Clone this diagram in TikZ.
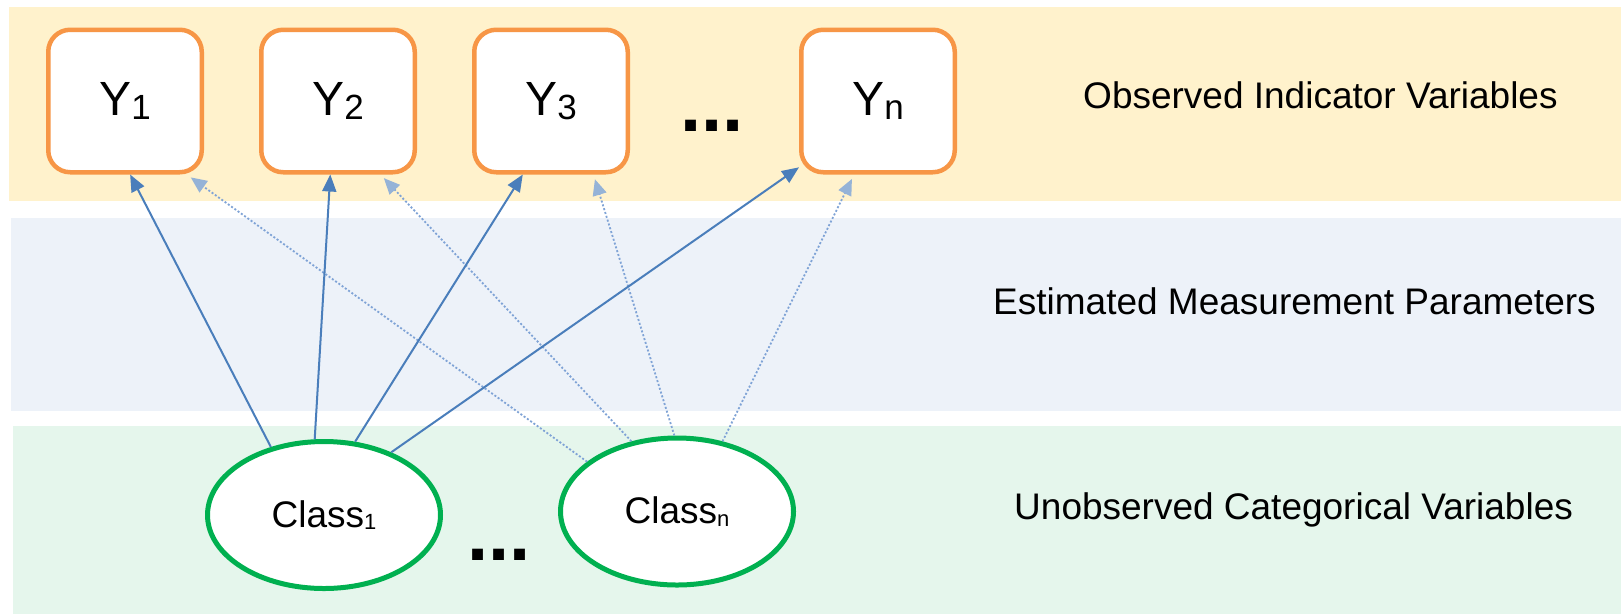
\documentclass[tikz,border=0pt]{standalone}
\usepackage{fontspec}
\setmainfont{Liberation Sans}
\usetikzlibrary{arrows.meta,shapes.geometric}
\definecolor{bandyellow}{HTML}{FFF2CC}
\definecolor{bandblue}{HTML}{EDF2F9}
\definecolor{bandgreen}{HTML}{E5F6EC}
\definecolor{boxorange}{HTML}{F79646}
\definecolor{ellgreen}{HTML}{00B050}
\definecolor{arrsolid}{HTML}{4A7EBB}
\definecolor{arrdot}{HTML}{7FA3D6}
\definecolor{arrdothead}{HTML}{95B3D7}
\newcommand{\ylab}[1]{{\fontsize{48}{48}\selectfont Y\raisebox{-4pt}{\fontsize{35}{35}\selectfont #1}}}
\newcommand{\clab}[1]{{\fontsize{37}{37}\selectfont Class\raisebox{-2.5pt}{\fontsize{22}{22}\selectfont #1}}}
\begin{document}
\begin{tikzpicture}[x=1pt,y=-1pt,
  ybox/.style={draw=boxorange,line width=4.5pt,fill=white,rounded corners=22pt,
    minimum width=153.5pt,minimum height=142.5pt,inner sep=0pt},
  cls/.style={ellipse,draw=ellgreen,line width=5pt,fill=white,
    minimum width=233pt,minimum height=147pt,inner sep=0pt},
  layerlabel/.style={anchor=base west,inner sep=0pt,font=\fontsize{37}{37}\selectfont},
  dotslabel/.style={inner sep=0pt,anchor=base,font=\fontsize{76}{76}\selectfont\bfseries},
  solidarr/.style={draw=arrsolid,line width=2pt,-{Triangle[length=17pt,width=14pt,fill=arrsolid]}},
  dotarr/.style={draw=arrdot,line width=1.8pt,dash pattern=on 2pt off 2pt,shorten >=5pt,
    -{Triangle[length=16pt,width=14pt,fill=arrdothead,color=arrdothead]}}
]
\useasboundingbox (0,0) rectangle (1621,614);
\fill[white] (0,0) rectangle (1621,614);
\fill[bandyellow] (9,7) rectangle (1621,201);
\fill[bandblue] (11,218) rectangle (1621,411);
\fill[bandgreen] (13,426) rectangle (1621,614);

\node[ybox] (y1) at (125,101) {\ylab{1}};
\node[ybox] (y2) at (338,101) {\ylab{2}};
\node[ybox] (y3) at (551,101) {\ylab{3}};
\node[ybox] (yn) at (878,101) {\ylab{n}};
\node[dotslabel] (topdots) at (712,131) {...};

\node[cls] (c1) at (324,515) {\clab{1}};
\node[cls] (cn) at (677,511.5) {\clab{n}};
\node[dotslabel] (botdots) at (499,560) {...};

\node[layerlabel] (lobs) at (1083,108) {Observed Indicator Variables};
\node[layerlabel] (lest) at (993,314) {Estimated Measurement Parameters};
\node[layerlabel] (lunobs) at (1014,519) {Unobserved Categorical Variables};

\draw[dotarr] (cn.151) -- (y1.-50);
\draw[dotarr] (cn.123) -- (y2.-60);
\draw[dotarr] (cn.92) -- (y3.-60);
\draw[dotarr] (cn.57) -- (yn.-108);

\draw[solidarr] (c1.128) -- (y1.-86);
\draw[solidarr] (c1.97) -- (y2.-96);
\draw[solidarr] (c1.67) -- (y3.-111);
\draw[solidarr] (c1.43) -- (yn.220);
\end{tikzpicture}
\end{document}
